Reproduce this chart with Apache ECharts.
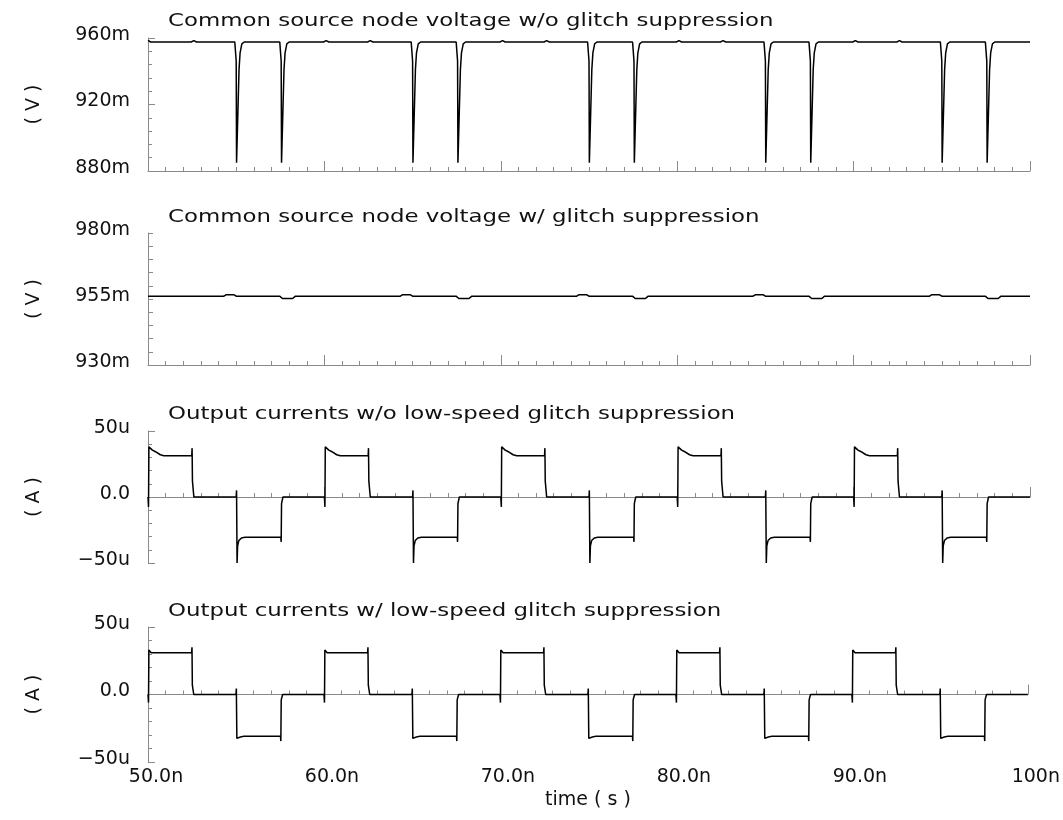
<!DOCTYPE html>
<html>
<head>
<meta charset="utf-8">
<script src="https://cdn.jsdelivr.net/npm/echarts@6/dist/echarts.min.js"></script>
<style>
  html, body { margin: 0; padding: 0; background: #fff; }
  #chart { width: 1063px; height: 820px; }
</style>
</head>
<body>
<div id="chart"></div>
<script>
// time axis (ns) labels
var xTickLabels = ['50.0n', '60.0n', '70.0n', '80.0n', '90.0n', '100n'];

var panelTitles = [
    'Common source node voltage w/o glitch suppression',
    'Common source node voltage w/ glitch suppression',
    'Output currents w/o low-speed glitch suppression',
    'Output currents w/ low-speed glitch suppression'
];
var unitNames = ['( V )', '( V )', '( A )', '( A )'];

// y tick labels per panel
var yLabelsV1 = { 880: '880m', 920: '920m', 960: '960m' };
var yLabelsV2 = { 930: '930m', 955: '955m', 980: '980m' };
var yLabelsI = { '-50': '\u221250u', '0': '0.0', '50': '50u' };

// [time ns, mV]  common source node, no suppression
var vNoSupp = [
    [50.00, 958.6], [50.15, 957.6],
    [52.45, 957.6], [52.60, 958.4], [52.75, 957.6],
    [54.92, 957.6], [54.98, 949], [55.00, 946], [55.02, 885], [55.08, 885], [55.16, 941], [55.22, 951], [55.32, 956.5], [55.45, 957.6],
    [57.47, 957.6], [57.53, 949], [57.55, 946], [57.57, 885], [57.63, 885], [57.71, 941], [57.77, 951], [57.87, 956.5], [58.00, 957.6],
    [59.95, 957.6], [60.10, 958.4], [60.25, 957.6],
    [62.45, 957.6], [62.60, 958.4], [62.75, 957.6],
    [64.92, 957.6], [64.98, 949], [65.00, 946], [65.02, 885], [65.08, 885], [65.16, 941], [65.22, 951], [65.32, 956.5], [65.45, 957.6],
    [67.47, 957.6], [67.53, 949], [67.55, 946], [67.57, 885], [67.63, 885], [67.71, 941], [67.77, 951], [67.87, 956.5], [68.00, 957.6],
    [69.95, 957.6], [70.10, 958.4], [70.25, 957.6],
    [72.45, 957.6], [72.60, 958.4], [72.75, 957.6],
    [74.92, 957.6], [74.98, 949], [75.00, 946], [75.02, 885], [75.08, 885], [75.16, 941], [75.22, 951], [75.32, 956.5], [75.45, 957.6],
    [77.47, 957.6], [77.53, 949], [77.55, 946], [77.57, 885], [77.63, 885], [77.71, 941], [77.77, 951], [77.87, 956.5], [78.00, 957.6],
    [79.95, 957.6], [80.10, 958.4], [80.25, 957.6],
    [82.45, 957.6], [82.60, 958.4], [82.75, 957.6],
    [84.92, 957.6], [84.98, 949], [85.00, 946], [85.02, 885], [85.08, 885], [85.16, 941], [85.22, 951], [85.32, 956.5], [85.45, 957.6],
    [87.47, 957.6], [87.53, 949], [87.55, 946], [87.57, 885], [87.63, 885], [87.71, 941], [87.77, 951], [87.87, 956.5], [88.00, 957.6],
    [89.95, 957.6], [90.10, 958.4], [90.25, 957.6],
    [92.45, 957.6], [92.60, 958.4], [92.75, 957.6],
    [94.92, 957.6], [94.98, 949], [95.00, 946], [95.02, 885], [95.08, 885], [95.16, 941], [95.22, 951], [95.32, 956.5], [95.45, 957.6],
    [97.47, 957.6], [97.53, 949], [97.55, 946], [97.57, 885], [97.63, 885], [97.71, 941], [97.77, 951], [97.87, 956.5], [98.00, 957.6],
    [100.00, 957.6]
];

// [time ns, mV]  common source node, with suppression
var vSupp = [
    [50.00, 956],
    [54.28, 956], [54.42, 956.6], [54.88, 956.6], [55.02, 956],
    [57.48, 956], [57.62, 955.2], [58.20, 955.2], [58.34, 956],
    [64.28, 956], [64.42, 956.6], [64.88, 956.6], [65.02, 956],
    [67.48, 956], [67.62, 955.2], [68.20, 955.2], [68.34, 956],
    [74.28, 956], [74.42, 956.6], [74.88, 956.6], [75.02, 956],
    [77.48, 956], [77.62, 955.2], [78.20, 955.2], [78.34, 956],
    [84.28, 956], [84.42, 956.6], [84.88, 956.6], [85.02, 956],
    [87.48, 956], [87.62, 955.2], [88.20, 955.2], [88.34, 956],
    [94.28, 956], [94.42, 956.6], [94.88, 956.6], [95.02, 956],
    [97.48, 956], [97.62, 955.2], [98.20, 955.2], [98.34, 956],
    [100.00, 956]
];

// [time ns, uA]  output currents, no low-speed suppression
var iNoSupp = [
    [50.00, 0], [50.03, -7.5], [50.05, 38], [50.25, 35.5], [50.40, 34.5], [50.70, 32], [50.90, 31.3],
    [52.48, 31.3], [52.50, 37], [52.52, 12], [52.57, 11], [52.60, 0],
    [55.00, 0], [55.02, 5], [55.05, -50], [55.08, -37], [55.15, -33], [55.30, -31], [55.50, -30.5],
    [57.53, -30.5], [57.55, -34], [57.57, -5], [57.62, -4], [57.65, 0],
    [60.00, 0], [60.03, -7.5], [60.05, 38], [60.25, 35.5], [60.40, 34.5], [60.70, 32], [60.90, 31.3],
    [62.48, 31.3], [62.50, 37], [62.52, 12], [62.57, 11], [62.60, 0],
    [65.00, 0], [65.02, 5], [65.05, -50], [65.08, -37], [65.15, -33], [65.30, -31], [65.50, -30.5],
    [67.53, -30.5], [67.55, -34], [67.57, -5], [67.62, -4], [67.65, 0],
    [70.00, 0], [70.03, -7.5], [70.05, 38], [70.25, 35.5], [70.40, 34.5], [70.70, 32], [70.90, 31.3],
    [72.48, 31.3], [72.50, 37], [72.52, 12], [72.57, 11], [72.60, 0],
    [75.00, 0], [75.02, 5], [75.05, -50], [75.08, -37], [75.15, -33], [75.30, -31], [75.50, -30.5],
    [77.53, -30.5], [77.55, -34], [77.57, -5], [77.62, -4], [77.65, 0],
    [80.00, 0], [80.03, -7.5], [80.05, 38], [80.25, 35.5], [80.40, 34.5], [80.70, 32], [80.90, 31.3],
    [82.48, 31.3], [82.50, 37], [82.52, 12], [82.57, 11], [82.60, 0],
    [85.00, 0], [85.02, 5], [85.05, -50], [85.08, -37], [85.15, -33], [85.30, -31], [85.50, -30.5],
    [87.53, -30.5], [87.55, -34], [87.57, -5], [87.62, -4], [87.65, 0],
    [90.00, 0], [90.03, -7.5], [90.05, 38], [90.25, 35.5], [90.40, 34.5], [90.70, 32], [90.90, 31.3],
    [92.48, 31.3], [92.50, 37], [92.52, 12], [92.57, 11], [92.60, 0],
    [95.00, 0], [95.02, 5], [95.05, -50], [95.08, -37], [95.15, -33], [95.30, -31], [95.50, -30.5],
    [97.53, -30.5], [97.55, -34], [97.57, -5], [97.62, -4], [97.65, 0],
    [100.00, 0]
];

// [time ns, uA]  output currents, with low-speed suppression
var iSupp = [
    [50.00, 0], [50.03, -6], [50.05, 33], [50.18, 31],
    [52.48, 31], [52.50, 35], [52.52, 7], [52.57, 6], [52.60, 0],
    [55.00, 0], [55.02, 4.5], [55.05, -32.5], [55.25, -31.5], [55.45, -31],
    [57.53, -31], [57.55, -34.5], [57.57, -4], [57.62, -3], [57.65, 0],
    [60.00, 0], [60.03, -6], [60.05, 33], [60.18, 31],
    [62.48, 31], [62.50, 35], [62.52, 7], [62.57, 6], [62.60, 0],
    [65.00, 0], [65.02, 4.5], [65.05, -32.5], [65.25, -31.5], [65.45, -31],
    [67.53, -31], [67.55, -34.5], [67.57, -4], [67.62, -3], [67.65, 0],
    [70.00, 0], [70.03, -6], [70.05, 33], [70.18, 31],
    [72.48, 31], [72.50, 35], [72.52, 7], [72.57, 6], [72.60, 0],
    [75.00, 0], [75.02, 4.5], [75.05, -32.5], [75.25, -31.5], [75.45, -31],
    [77.53, -31], [77.55, -34.5], [77.57, -4], [77.62, -3], [77.65, 0],
    [80.00, 0], [80.03, -6], [80.05, 33], [80.18, 31],
    [82.48, 31], [82.50, 35], [82.52, 7], [82.57, 6], [82.60, 0],
    [85.00, 0], [85.02, 4.5], [85.05, -32.5], [85.25, -31.5], [85.45, -31],
    [87.53, -31], [87.55, -34.5], [87.57, -4], [87.62, -3], [87.65, 0],
    [90.00, 0], [90.03, -6], [90.05, 33], [90.18, 31],
    [92.48, 31], [92.50, 35], [92.52, 7], [92.57, 6], [92.60, 0],
    [95.00, 0], [95.02, 4.5], [95.05, -32.5], [95.25, -31.5], [95.45, -31],
    [97.53, -31], [97.55, -34.5], [97.57, -4], [97.62, -3], [97.65, 0],
    [100.00, 0]
];

var FONT = 'DejaVu Sans';
var AXIS_GRAY = '#8a8a8a';

var grids = [
    { left: 148, top: 38, width: 882, height: 133 },
    { left: 148, top: 233, width: 882, height: 132 },
    { left: 148, top: 431, width: 882, height: 132 },
    { left: 148, top: 627, width: 882, height: 135 }
];
var titleY = [21, 217, 414, 611];

var chart = echarts.init(document.getElementById('chart'));

function xAxisFor(i) {
    var last = i === 3;
    return {
        type: 'value', gridIndex: i, min: 50, max: 100, interval: 10,
        axisLine: { lineStyle: { color: AXIS_GRAY, width: 1 } },
        axisTick: { inside: true, length: 10, lineStyle: { color: AXIS_GRAY } },
        minorTick: { show: true, splitNumber: 10, length: 4, lineStyle: { color: AXIS_GRAY } },
        splitLine: { show: false },
        axisLabel: {
            show: last, color: '#111', fontFamily: FONT, fontSize: 19, margin: 6,
            padding: [0, 0, 0, 16],
            formatter: function (v) { return xTickLabels[Math.round((v - 50) / 10)]; }
        },
        name: last ? 'time ( s )' : '', nameLocation: 'middle', nameGap: 29,
        nameTextStyle: { color: '#111', fontFamily: FONT, fontSize: 19 }
    };
}

function yAxisFor(i, min, max, interval, minorSplit, labels) {
    return {
        type: 'value', gridIndex: i, min: min, max: max, interval: interval,
        axisLine: { show: true, lineStyle: { color: AXIS_GRAY, width: 1 } },
        axisTick: { show: true, inside: true, length: minorSplit ? 7 : 5, lineStyle: { color: AXIS_GRAY } },
        minorTick: { show: !!minorSplit, splitNumber: minorSplit || 5, length: 4, lineStyle: { color: AXIS_GRAY } },
        splitLine: { show: false },
        axisLabel: {
            color: '#111', fontFamily: FONT, fontSize: 19, margin: 18,
            verticalAlign: 'bottom', lineHeight: 6,
            formatter: function (v) { var k = String(Math.round(v)); return labels[k] || ''; }
        },
        name: unitNames[i], nameLocation: 'middle', nameRotate: 90, nameGap: 104,
        nameTextStyle: { color: '#111', fontFamily: FONT, fontSize: 19 }
    };
}

function wave(i, data) {
    return {
        type: 'line', xAxisIndex: i, yAxisIndex: i, data: data,
        showSymbol: false, symbol: 'none', clip: false,
        lineStyle: { color: '#000', width: 1.5 }
    };
}

var option = {
    backgroundColor: '#fff',
    animation: false,
    grid: grids,
    xAxis: [xAxisFor(0), xAxisFor(1), xAxisFor(2), xAxisFor(3)],
    yAxis: [
        yAxisFor(0, 880, 960, 40, 5, yLabelsV1),
        yAxisFor(1, 930, 980, 5, 0, yLabelsV2),
        yAxisFor(2, -50, 50, 50, 5, yLabelsI),
        yAxisFor(3, -50, 50, 50, 5, yLabelsI)
    ],
    graphic: panelTitles.map(function (t, i) {
        return {
            type: 'text', x: 168, y: titleY[i], scaleX: 1.27,
            style: {
                text: t, fill: '#111', font: '18px "' + FONT + '"',
                textAlign: 'left', textVerticalAlign: 'middle'
            }
        };
    }),
    series: [
        wave(0, vNoSupp),
        wave(1, vSupp),
        wave(2, iNoSupp),
        wave(3, iSupp)
    ]
};
chart.setOption(option);
window.onresize = chart.resize;
</script>
</body>
</html>
